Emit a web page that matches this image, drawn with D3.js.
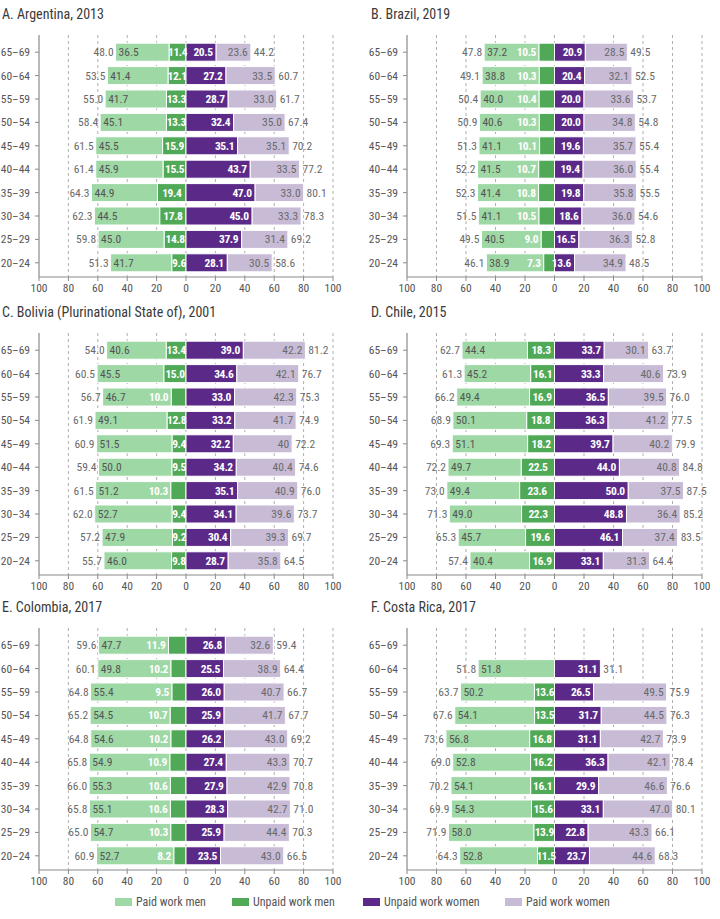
<!DOCTYPE html>
<html><head><meta charset="utf-8">
<script src="https://cdn.jsdelivr.net/npm/d3@7"></script>
<style>
body{margin:0;background:#fff}
svg{display:block}
text{font-family:"Roboto Condensed",Roboto,sans-serif;font-stretch:condensed}
</style></head>
<body><svg id="chart" width="720" height="919"></svg>
<script>
const ageGroups = ["65–69","60–64","55–59","50–54","45–49","40–44","35–39","30–34","25–29","20–24"];
const xTicks = [-100,-80,-60,-40,-20,0,20,40,60,80,100];
const seriesNames = ["Paid work men","Unpaid work men","Unpaid work women","Paid work women"];

// A. Argentina, 2013
const argTotalMen    = [48.0,53.5,55.0,58.4,61.5,61.4,64.3,62.3,59.8,51.3];
const argPaidMen     = [36.5,41.4,41.7,45.1,45.5,45.9,44.9,44.5,45.0,41.7];
const argUnpaidMen   = [11.4,12.1,13.3,13.3,15.9,15.5,19.4,17.8,14.8,9.6];
const argUnpaidWomen = [20.5,27.2,28.7,32.4,35.1,43.7,47.0,45.0,37.9,28.1];
const argPaidWomen   = [23.6,33.5,33.0,35.0,35.1,33.5,33.0,33.3,31.4,30.5];
const argTotalWomen  = [44.2,60.7,61.7,67.4,70.2,77.2,80.1,78.3,69.2,58.6];

// B. Brazil, 2019
const braTotalMen    = [47.8,49.1,50.4,50.9,51.3,52.2,52.3,51.5,49.5,46.1];
const braPaidMen     = [37.2,38.8,40.0,40.6,41.1,41.5,41.4,41.1,40.5,38.9];
const braUnpaidMen   = [10.5,10.3,10.4,10.3,10.1,10.7,10.8,10.5,9.0,7.3];
const braUnpaidWomen = [20.9,20.4,20.0,20.0,19.6,19.4,19.8,18.6,16.5,13.6];
const braPaidWomen   = [28.5,32.1,33.6,34.8,35.7,36.0,35.8,36.0,36.3,34.9];
const braTotalWomen  = [49.5,52.5,53.7,54.8,55.4,55.4,55.5,54.6,52.8,48.5];

// C. Bolivia (Plurinational State of), 2001
const bolTotalMen    = [54.0,60.5,56.7,61.9,60.9,59.4,61.5,62.0,57.2,55.7];
const bolPaidMen     = [40.6,45.5,46.7,49.1,51.5,50.0,51.2,52.7,47.9,46.0];
const bolUnpaidMen   = [13.4,15.0,10.0,12.8,9.4,9.5,10.3,9.4,9.2,9.8];
const bolUnpaidWomen = [39.0,34.6,33.0,33.2,32.2,34.2,35.1,34.1,30.4,28.7];
const bolPaidWomen   = [42.2,42.1,42.3,41.7,40,40.4,40.9,39.6,39.3,35.8];
const bolTotalWomen  = [81.2,76.7,75.3,74.9,72.2,74.6,76.0,73.7,69.7,64.5];

// D. Chile, 2015
const chiTotalMen    = [62.7,61.3,66.2,68.9,69.3,72.2,73.0,71.3,65.3,57.4];
const chiPaidMen     = [44.4,45.2,49.4,50.1,51.1,49.7,49.4,49.0,45.7,40.4];
const chiUnpaidMen   = [18.3,16.1,16.9,18.8,18.2,22.5,23.6,22.3,19.6,16.9];
const chiUnpaidWomen = [33.7,33.3,36.5,36.3,39.7,44.0,50.0,48.8,46.1,33.1];
const chiPaidWomen   = [30.1,40.6,39.5,41.2,40.2,40.8,37.5,36.4,37.4,31.3];
const chiTotalWomen  = [63.7,73.9,76.0,77.5,79.9,84.8,87.5,85.2,83.5,64.4];

// E. Colombia, 2017
const colTotalMen    = [59.6,60.1,64.8,65.2,64.8,65.8,66.0,65.8,65.0,60.9];
const colPaidMen     = [47.7,49.8,55.4,54.5,54.6,54.9,55.3,55.1,54.7,52.7];
const colUnpaidMen   = [11.9,10.2,9.5,10.7,10.2,10.9,10.6,10.6,10.3,8.2];
const colUnpaidWomen = [26.8,25.5,26.0,25.9,26.2,27.4,27.9,28.3,25.9,23.5];
const colPaidWomen   = [32.6,38.9,40.7,41.7,43.0,43.3,42.9,42.7,44.4,43.0];
const colTotalWomen  = [59.4,64.4,66.7,67.7,69.2,70.7,70.8,71.0,70.3,66.5];

// F. Costa Rica, 2017
const crTotalMen    = [null,51.8,63.7,67.6,73.6,69.0,70.2,69.9,71.9,64.3];
const crPaidMen     = [null,51.8,50.2,54.1,56.8,52.8,54.1,54.3,58.0,52.8];
const crUnpaidMen   = [null,null,13.6,13.5,16.8,16.2,16.1,15.6,13.9,11.5];
const crUnpaidWomen = [null,31.1,26.5,31.7,31.1,36.3,29.9,33.1,22.8,23.7];
const crPaidWomen   = [null,null,49.5,44.5,42.7,42.1,46.6,47.0,43.3,44.6];
const crTotalWomen  = [null,31.1,75.9,76.3,73.9,78.4,76.6,80.1,66.1,68.3];

const panels = [
  {title:"A. Argentina, 2013", tm:argTotalMen, pm:argPaidMen, um:argUnpaidMen, uw:argUnpaidWomen, pw:argPaidWomen, tw:argTotalWomen, outside:[], col:0, row:0},
  {title:"B. Brazil, 2019", tm:braTotalMen, pm:braPaidMen, um:braUnpaidMen, uw:braUnpaidWomen, pw:braPaidWomen, tw:braTotalWomen, outside:ageGroups, col:1, row:0},
  {title:"C. Bolivia (Plurinational State of), 2001", tm:bolTotalMen, pm:bolPaidMen, um:bolUnpaidMen, uw:bolUnpaidWomen, pw:bolPaidWomen, tw:bolTotalWomen, outside:["55–59","35–39"], col:0, row:1, pwLabels:{"45–49":"40"}},
  {title:"D. Chile, 2015", tm:chiTotalMen, pm:chiPaidMen, um:chiUnpaidMen, uw:chiUnpaidWomen, pw:chiPaidWomen, tw:chiTotalWomen, outside:[], col:1, row:1},
  {title:"E. Colombia, 2017", tm:colTotalMen, pm:colPaidMen, um:colUnpaidMen, uw:colUnpaidWomen, pw:colPaidWomen, tw:colTotalWomen, outside:ageGroups, col:0, row:2},
  {title:"F. Costa Rica, 2017", tm:crTotalMen, pm:crPaidMen, um:crUnpaidMen, uw:crUnpaidWomen, pw:crPaidWomen, tw:crTotalWomen, outside:[], col:1, row:2}
];

const colors = {pm:"#9dd8a5", um:"#4fa956", uw:"#5b2a88", pw:"#c7bbd6"};
const labelGrey = "#6a6a6a";
const colX = [[39,333],[407,702]];
const rowTop = [0,298,593];
const titleX = [2,371];
const fmt = d3.format(".1f");
const numSize = 11.5;

const svg = d3.select("#chart");

panels.forEach(p => {
  const oy = rowTop[p.row];
  const [x0,x1] = colX[p.col];
  const x = d3.scaleLinear().domain([-100,100]).range([x0,x1]);
  const top = oy + 35, bottom = oy + 277;
  const y = d3.scaleBand().domain(ageGroups).range([oy+40.5, oy+274.5]).paddingInner(0.23).paddingOuter(0.115);
  const g = svg.append("g");

  g.append("text").attr("x", titleX[p.col]).attr("y", oy+19)
    .attr("font-size", 14).attr("fill", "#3a3a3a").text(p.title);

  // gridlines
  g.selectAll(".grid").data(xTicks.filter(t => t > -100)).join("line")
    .attr("x1", d => x(d)).attr("x2", d => x(d))
    .attr("y1", top).attr("y2", bottom)
    .attr("stroke", "#9a9a9a").attr("stroke-width", 0.8).attr("stroke-dasharray", "3,3");

  const rows = ageGroups.map((a,i) => ({
    age:a, tm:p.tm[i], pm:p.pm[i]||0, um:p.um[i]||0, uw:p.uw[i]||0, pw:p.pw[i]||0, tw:p.tw[i],
    hasPm:p.pm[i]!=null, hasUm:p.um[i]!=null, hasUw:p.uw[i]!=null, hasPw:p.pw[i]!=null
  })).filter(r => r.tm != null);

  const bh = y.bandwidth();
  const rg = g.selectAll(".row").data(rows).join("g").attr("transform", d => `translate(0,${y(d.age)})`);

  // bars
  rg.append("rect").attr("x", d => x(-(d.um+d.pm))).attr("width", d => x(-d.um)-x(-(d.um+d.pm)))
    .attr("height", bh).attr("fill", colors.pm).attr("stroke","#fff").attr("stroke-width",1);
  rg.filter(d=>d.hasUm).append("rect").attr("x", d => x(-d.um)).attr("width", d => x(0)-x(-d.um))
    .attr("height", bh).attr("fill", colors.um).attr("stroke","#fff").attr("stroke-width",1);
  rg.filter(d=>d.hasUw).append("rect").attr("x", x(0)).attr("width", d => x(d.uw)-x(0))
    .attr("height", bh).attr("fill", colors.uw).attr("stroke","#fff").attr("stroke-width",1);
  rg.filter(d=>d.hasPw).append("rect").attr("x", d => x(d.uw)).attr("width", d => x(d.uw+d.pw)-x(d.uw))
    .attr("height", bh).attr("fill", colors.pw).attr("stroke","#fff").attr("stroke-width",1);

  const ty = bh/2;
  const lab = (sel) => sel.attr("y", ty).attr("dy","0.35em").attr("font-size", numSize);

  lab(rg.append("text")).attr("x", d => x(-(d.um+d.pm))-2).attr("text-anchor","end")
    .attr("fill", labelGrey).text(d => fmt(d.tm));
  lab(rg.filter(d=>d.hasPm).append("text")).attr("x", d => x(-(d.um+d.pm))+3).attr("text-anchor","start")
    .attr("fill", "#555").text(d => fmt(d.pm));
  lab(rg.filter(d=>d.hasUm).append("text"))
    .attr("x", d => p.outside.includes(d.age) ? x(-d.um)-3 : (x(-d.um)+x(0))/2)
    .attr("text-anchor", d => p.outside.includes(d.age) ? "end" : "middle")
    .attr("letter-spacing", -0.4)
    .attr("fill","#fff").attr("font-weight","bold").text(d => fmt(d.um));
  lab(rg.filter(d=>d.hasUw).append("text")).attr("x", d => x(d.uw)-3.5).attr("text-anchor","end")
    .attr("letter-spacing", -0.4)
    .attr("fill","#fff").attr("font-weight","bold").text(d => fmt(d.uw));
  lab(rg.filter(d=>d.hasPw).append("text")).attr("x", d => x(d.uw+d.pw)-3).attr("text-anchor","end")
    .attr("fill", labelGrey).text(d => (p.pwLabels && p.pwLabels[d.age]) || fmt(d.pw));
  lab(rg.append("text")).attr("x", d => x(d.uw+d.pw)+3).attr("text-anchor","start")
    .attr("fill", labelGrey).text(d => fmt(d.tw));

  // y axis
  g.append("line").attr("x1", x0).attr("x2", x0).attr("y1", top).attr("y2", bottom)
    .attr("stroke", "#8a8a8a").attr("stroke-width", 1.2);
  ageGroups.forEach(a => {
    const cy = y(a) + bh/2;
    g.append("line").attr("x1", x0-4).attr("x2", x0).attr("y1", cy).attr("y2", cy).attr("stroke","#8a8a8a");
    g.append("text").attr("x", x0-9).attr("y", cy).attr("dy","0.35em").attr("text-anchor","end")
      .attr("font-size", numSize).attr("fill", "#555").text(a);
  });
  // x axis
  g.append("line").attr("x1", x0).attr("x2", x1).attr("y1", bottom).attr("y2", bottom)
    .attr("stroke", "#8a8a8a").attr("stroke-width", 1.2);
  xTicks.forEach(t => {
    g.append("line").attr("x1", x(t)).attr("x2", x(t)).attr("y1", bottom).attr("y2", bottom+4).attr("stroke","#8a8a8a");
    g.append("text").attr("x", x(t)).attr("y", bottom+15).attr("text-anchor","middle")
      .attr("font-size", numSize).attr("fill", "#555").text(Math.abs(t));
  });
});

// legend
const legendX = [115, 232, 363, 505];
const legendColors = [colors.pm, colors.um, colors.uw, colors.pw];
const lg = svg.append("g");
seriesNames.forEach((n,i) => {
  lg.append("rect").attr("x", legendX[i]).attr("y", 898).attr("width", 17).attr("height", 8).attr("fill", legendColors[i]);
  lg.append("text").attr("x", legendX[i]+21).attr("y", 902).attr("dy","0.35em").attr("font-size", 12)
    .attr("fill", "#555").text(n);
});
</script></body></html>
